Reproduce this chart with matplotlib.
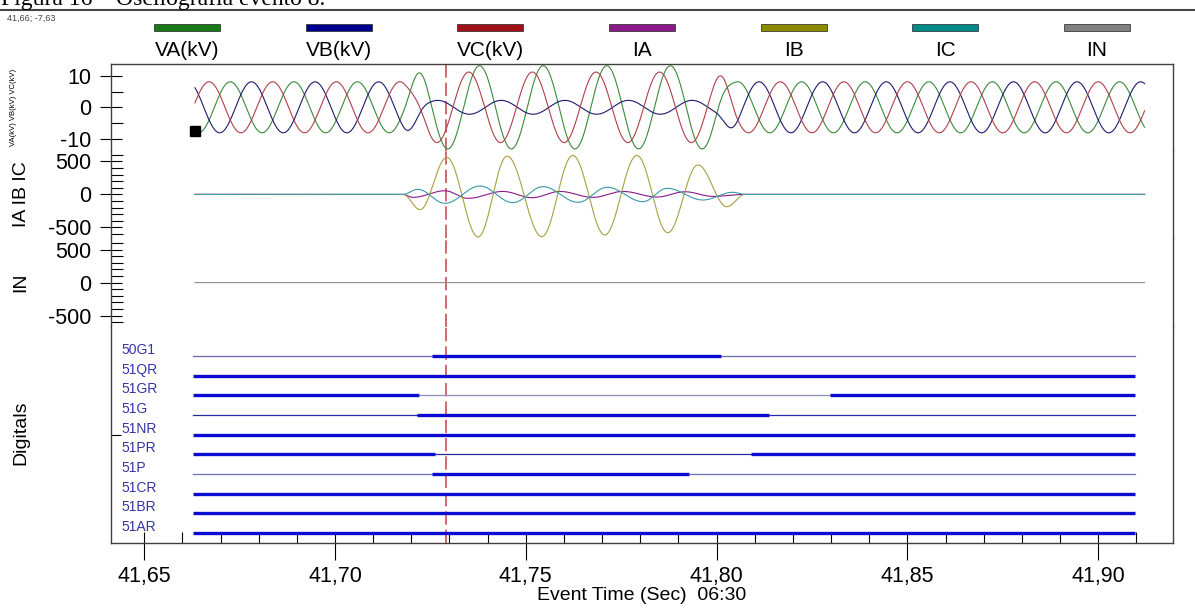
import numpy as np
import matplotlib.pyplot as plt
from matplotlib.ticker import MultipleLocator, FuncFormatter
from matplotlib.patches import Rectangle
from matplotlib.lines import Line2D
import matplotlib.transforms as mtrans

plt.rcParams['font.family'] = ['Liberation Sans', 'DejaVu Sans']
plt.rcParams['axes.unicode_minus'] = False

# --- record ---
FREQ = 60.0
T_START = 41.6633
T_END = 41.9122
T_REF = 41.6633

# voltage phasors per stage: (amplitude kV, phase deg at T_REF)
VA_PRE, VA_FLT, VA_POST = (8.1, -110), (13.2, -81), (8.1, -104)
VB_PRE, VB_FLT, VB_POST = (8.1, 130), (2.2, 156), (8.1, 137)
VC_PRE, VC_FLT, VC_POST = (8.1, 10), (11.2, -20), (8.1, 17)
FAULT_ON = (41.7178, 41.7249)
FAULT_OFF = (41.7988, 41.8056)

# current extremes during the fault (time s, value A)
IB_T = [41.7178, 41.7223, 41.7293, 41.7375, 41.7451, 41.7542, 41.7623,
        41.7707, 41.7791, 41.7872, 41.7951, 41.8027, 41.8074]
IB_V = [0, -230, 560, -645, 580, -640, 590, -615, 590, -580, 445, -186, 0]
IC_T = [41.7178, 41.7217, 41.7288, 41.7380, 41.7466, 41.7545, 41.7637,
        41.7713, 41.7807, 41.7870, 41.7964, 41.8043, 41.8074]
IC_V = [0, 77, -135, 127, -125, 117, -120, 108, -110, 92, -85, 32, 0]
IA_T = [41.7178, 41.7204, 41.7288, 41.7348, 41.7440, 41.7516, 41.7589,
        41.7676, 41.7754, 41.7844, 41.7917, 41.7990, 41.8074]
IA_V = [0, -45, 55, -60, 45, -50, 45, -45, 45, -40, 40, -30, 0]

CURSOR = (41.6632, -7.63)
MARK_T = 41.729

# digital channels: initial state and change times
DIG_NAMES = ['50G1', '51QR', '51GR', '51G', '51NR', '51PR', '51P', '51CR', '51BR', '51AR']
DIG_INIT = [0, 1, 1, 0, 1, 1, 0, 1, 1, 1]
DIG_EDGES = [[41.7254, 41.8012], [], [41.7220, 41.8296], [41.7214, 41.8137], [],
             [41.7261, 41.8089], [41.7255, 41.7927], [], [], []]
DIG_START, DIG_END = 41.6628, 41.9096

LEG_NAMES = ['VA(kV)', 'VB(kV)', 'VC(kV)', 'IA', 'IB', 'IC', 'IN']
LEG_COLORS = ['#1a7a1a', '#000090', '#a01018', '#8a1a8a', '#8b8b00', '#008b8b', '#808080']
LINE_COLORS = ['#3a8a3a', '#1c1c70', '#b0404a', '#8a1a8a', '#a8a040', '#3a9aa8', '#909090']


def sine(t, ph):
    amp, deg = ph
    return amp * np.sin(2 * np.pi * FREQ * (t - T_REF) + np.deg2rad(deg))


def ramp(t, win):
    x = np.clip((t - win[0]) / (win[1] - win[0]), 0, 1)
    return x * x * (3 - 2 * x)


def voltage(t, pre, flt, post):
    w1 = ramp(t, FAULT_ON)
    w2 = ramp(t, FAULT_OFF)
    return sine(t, pre) * (1 - w1) + sine(t, flt) * (w1 - w2) + sine(t, post) * w2


def lobes(t, tk, vk):
    tk = np.r_[T_START, tk, T_END]
    vk = np.r_[0, vk, 0]
    i = np.clip(np.searchsorted(tk, t, side='right') - 1, 0, len(tk) - 2)
    f = np.clip((t - tk[i]) / (tk[i + 1] - tk[i]), 0, 1)
    return (vk[i] + vk[i + 1]) / 2 + (vk[i] - vk[i + 1]) / 2 * np.cos(np.pi * f)


t = np.arange(T_START, T_END, 0.00005)

# --- layout in pixels of the 1195x612 picture ---
FW, FH = 1195, 612
X0, X1 = 111, 1173


def rect(top, bot):
    return [X0 / FW, 1 - bot / FH, (X1 - X0) / FW, (bot - top) / FH]


fig = plt.figure(figsize=(FW / 100, FH / 100), dpi=100)
axv = fig.add_axes(rect(64, 150.6))
axi = fig.add_axes(rect(150.6, 238.2), sharex=axv)
axn = fig.add_axes(rect(238.2, 327), sharex=axv)
axd = fig.add_axes(rect(327, 543), sharex=axv)
axes = [axv, axi, axn, axd]

for k, ax in enumerate(axes):
    for s in ax.spines.values():
        s.set_color('#404040')
        s.set_linewidth(1.0)
    ax.spines['top'].set_visible(k == 0)
    ax.spines['bottom'].set_visible(k == 3)
    ax.tick_params(axis='y', which='major', direction='inout', length=16, width=0.8,
                   labelsize=15.5, pad=6)
    ax.tick_params(axis='y', which='minor', direction='in', length=8.5, width=0.8)
    if k < 3:
        ax.tick_params(axis='x', which='both', bottom=False, labelbottom=False)
    ax.axvline(MARK_T, color='#c8505a', lw=1.2, ls=(0, (8, 3)))

axv.set_xlim(41.6413, 41.9196)

# voltages
axv.plot(t, voltage(t, VA_PRE, VA_FLT, VA_POST), color=LINE_COLORS[0], lw=0.8)
axv.plot(t, voltage(t, VB_PRE, VB_FLT, VB_POST), color=LINE_COLORS[1], lw=0.8)
axv.plot(t, voltage(t, VC_PRE, VC_FLT, VC_POST), color=LINE_COLORS[2], lw=0.8)
axv.plot(*CURSOR, 's', ms=6.5, color='black', clip_on=False, zorder=5)
axv.set_ylim(-13.75, 13.75)
axv.set_yticks([-10, 0, 10], ['-10', '0', '10'])
axv.set_yticks([-5, 5], minor=True)

# currents
axi.plot(t, lobes(t, IA_T, IA_V), color=LINE_COLORS[3], lw=0.8)
axi.plot(t, lobes(t, IB_T, IB_V), color=LINE_COLORS[4], lw=0.8)
axi.plot(t, lobes(t, IC_T, IC_V), color=LINE_COLORS[5], lw=0.8)
axn.plot(t, np.zeros_like(t), color=LINE_COLORS[6], lw=0.8)
for ax, lim in ((axi, 664), (axn, 672)):
    ax.set_ylim(-lim, lim)
    ax.set_yticks([-500, 0, 500], ['-500', '0', '500'])
    ax.yaxis.set_minor_locator(MultipleLocator(100))

# digitals
n = len(DIG_NAMES)
thin_colors = ['#6868b0', None, '#8c8cb4', '#2828a0', None, '#2828a0', '#7070b8', None, None, None]
lab_tr = mtrans.blended_transform_factory(axd.transAxes, axd.transData)
for j, name in enumerate(DIG_NAMES):
    y = n - 1 - j
    edges = [DIG_START] + DIG_EDGES[j] + [DIG_END]
    state = DIG_INIT[j]
    for a, b in zip(edges[:-1], edges[1:]):
        if state:
            axd.plot([a, b], [y, y], color='#0a0ad0', lw=2.4, solid_capstyle='butt')
        else:
            axd.plot([a, b], [y, y], color=thin_colors[j], lw=0.9)
        state = 1 - state
    axd.text(0.0101, y + 0.1, name, transform=lab_tr, fontsize=10, color='#3535a5',
             va='baseline', ha='left')
axd.set_ylim(-0.51, 10.47)
axd.set_yticks([5], [''])
axd.tick_params(axis='y', which='major', direction='in', length=7.5)

axd.xaxis.set_major_locator(MultipleLocator(0.05))
axd.xaxis.set_minor_locator(MultipleLocator(0.01))
axd.xaxis.remove_overlapping_locs = False
axd.xaxis.set_major_formatter(FuncFormatter(lambda v, p: f'{v:.2f}'.replace('.', ',')))
axd.tick_params(axis='x', which='major', direction='out', length=12.5, width=0.8,
                labelsize=15.5, pad=4)
axd.tick_params(axis='x', which='minor', direction='in', length=8, width=0.8)
axd.set_xlabel('Event Time (Sec)  06:30', fontsize=14, labelpad=0)

# y labels
fig.text(13.5 / FW, 1 - 107 / FH, 'VA(kV) VB(kV) VC(kV)', rotation=90, fontsize=5.5,
         ha='center', va='center')
fig.text(21 / FW, 1 - 194 / FH, 'IA IB IC', rotation=90, fontsize=14, ha='center', va='center')
fig.text(21 / FW, 1 - 282 / FH, 'IN', rotation=90, fontsize=14, ha='center', va='center')
fig.text(21 / FW, 1 - 433 / FH, 'Digitals', rotation=90, fontsize=14, ha='center', va='center')

# legend strip
for k, (name, col) in enumerate(zip(LEG_NAMES, LEG_COLORS)):
    cx = 187 + k * 151.67
    fig.add_artist(Rectangle(((cx - 33) / FW, 1 - 31 / FH), 66 / FW, 7 / FH,
                             transform=fig.transFigure, facecolor=col,
                             edgecolor='#222222', lw=0.5))
    fig.text(cx / FW, 1 - 51 / FH, name, fontsize=15, ha='center', va='center')

# caption cut at the top of the picture, and cursor readout
fig.text(1 / FW, 1 - 5 / FH, 'Figura 16 – Oscilografía evento 8.', fontsize=17,
         family='Liberation Serif', va='baseline', ha='left')
fig.add_artist(Line2D([0, 1], [1 - 10 / FH] * 2, transform=fig.transFigure,
                      color='#444444', lw=1.5))
fig.text(7 / FW, 1 - 18.5 / FH, '41,66; -7,63', fontsize=6.5, va='center', color='#444444')

fig.savefig('out.png', dpi=100)
